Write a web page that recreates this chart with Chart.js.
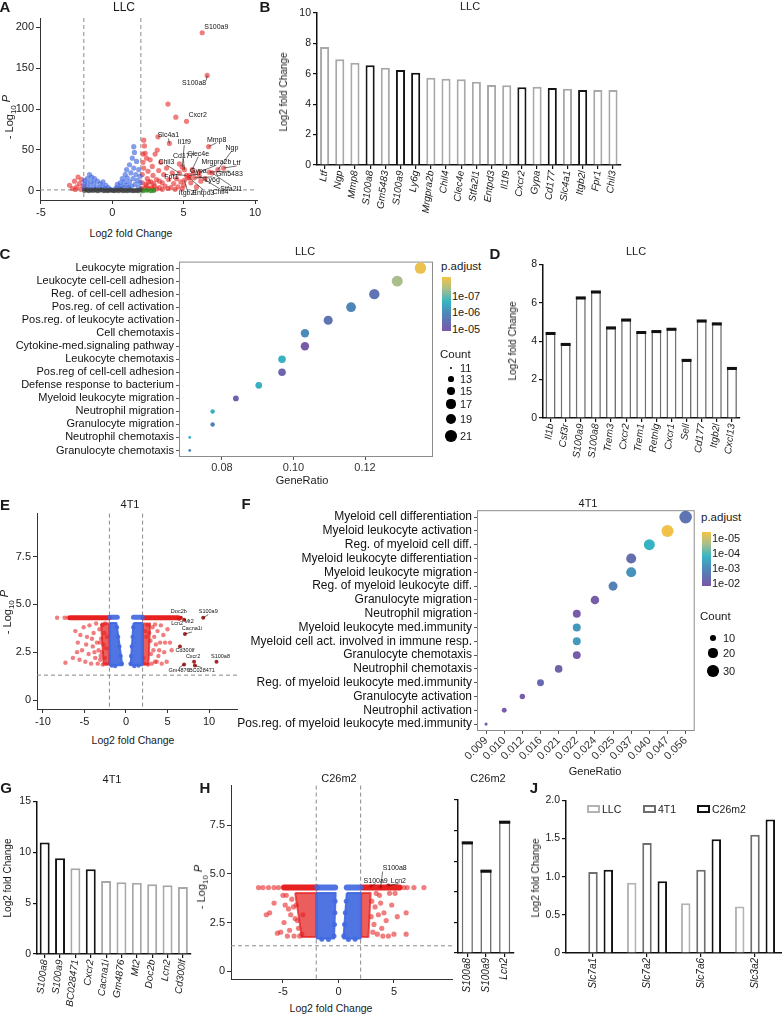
<!DOCTYPE html>
<html>
<head>
<meta charset="utf-8">
<title>Neutrophil gene signatures</title>
<script src="https://cdn.jsdelivr.net/npm/chart.js@4.4.1/dist/chart.umd.min.js"></script>
<style>
  html, body { margin: 0; overflow: hidden; }
  body { width: 782px; height: 1016px; position: relative; background: #fff;
         font-family: "Liberation Sans", Arial, sans-serif; color: #1a1a1a; }
  .lbl { position: absolute; white-space: nowrap; line-height: 1; }
</style>
</head>
<body>
<script>
// ---------------- data ----------------
const FC_CUT = 2;      // |log2 fold change| cut-off
const P_CUT = 1.3;     // -log10(0.05)

// A: LLC volcano
const aTicksX = [-5, 0, 5, 10];
const aTicksY = [0, 50, 100, 150, 200];
const aGrey = [[-1.95,0.5],[-1.8,1.5],[-1.65,0.3],[-1.5,1.1],[-1.35,0.6],[-1.2,1.6],[-1.05,0.2],[-0.9,0.9],
  [-0.75,1.4],[-0.6,0.4],[-0.45,1.0],[-0.3,0.3],[-0.15,1.2],[0,0.5],[0.15,0.2],[0.3,1.1],[0.45,0.4],[0.6,1.5],
  [0.75,0.3],[0.9,0.9],[1.05,0.2],[1.2,1.3],[1.35,0.6],[1.5,0.2],[1.65,1.0],[1.8,0.4],[1.95,1.2]];
const aBlue = [[-1.95,3],[-1.95,8],[-1.95,13],[-1.75,3],[-1.75,9],[-1.75,15],[-1.6,20],[-1.55,5],[-1.5,11],
  [-1.45,17],[-1.3,3],[-1.3,9],[-1.25,15],[-1.1,5],[-1.05,12],[-0.9,3],[-0.85,9],[-0.7,5],[-0.65,11],[-0.5,3],
  [-0.45,7],[-0.3,4],[-0.15,2],
  [0.15,2],[0.3,4],[0.35,8],[0.5,3],[0.55,10],[0.65,6],[0.7,15],[0.8,4],[0.85,11],[0.9,20],[1.0,7],[1.0,26],
  [1.05,16],[1.15,4],[1.2,11],[1.2,32],[1.3,22],[1.35,6],[1.4,40],[1.45,15],[1.5,28],[1.5,54],[1.55,47],[1.6,8],
  [1.65,20],[1.7,36],[1.75,13],[1.85,4],[1.85,26],[1.95,10],[1.95,18]];
const aGreen = [[2.15,0.4],[2.4,0.9],[2.7,0.3],[2.9,0.6]];
const aRed = [[-3.0,7],[-2.8,3],[-2.65,12],[-2.5,5],[-2.4,17],[-2.3,9],[-2.2,2],[-2.15,14],[-2.05,6],[-2.6,1.8],
  [2.05,3],[2.1,10],[2.1,20],[2.15,35],[2.2,62],[2.25,55],[2.3,46],[2.2,28],[2.4,6],[2.45,15],[2.5,24],[2.6,3],
  [2.65,38],[2.7,11],[2.8,30],[2.85,19],[2.95,6],[3.0,45],[3.1,14],[3.15,50],[3.2,66],[3.25,25],[3.3,4],[3.4,35],
  [3.5,10],[3.6,20],[3.7,6],[3.8,28],[3.9,106],[3.95,14],[4.1,4],[4.2,22],[4.3,9],[4.45,90],[4.5,15],[4.6,5],
  [4.7,33],[4.8,11],[5.0,7],[5.3,16],[5.5,10],[5.7,22],[5.9,5],[6.2,12],[6.5,15],
  [2.1,1.8],[2.3,3.5],[2.5,1.6],[2.75,4],[2.9,2],[3.1,2.5],[3.5,2],[3.9,3],[4.4,2],[4.9,3],[2.35,8],[2.55,11],
  [2.9,9],[3.3,12],[2.15,45],[2.4,40]];
const aLabGenes = ['S100a9','S100a8','Cxcr2','Slc4a1','Il1f9','Cd177','Chil3','Clec4e','Mrgpra2b','Gypa',
  'Fpr1','Ly6g','Itgb2l','Entpd3','Chil4','Stfa2l1','Gm5483','Ltf','Ngp','Mmp8'];
const aLabPts = [[6.3,193],[6.65,141],[5.2,85],[4.0,58],[4.9,29],[5.05,26],[4.7,22],[5.6,26],[6.1,23],[5.4,19],
  [5.2,19],[5.75,16],[5.05,13],[5.4,16],[6.1,18],[7.0,22],[6.8,23],[7.8,28],[7.4,26],[6.75,54]];

// B: LLC top genes
const bGenes = ['Ltf','Ngp','Mmp8','S100a8','Gm5483','S100a9','Ly6g','Mrgpra2b','Chil4','Clec4e','Stfa2l1',
  'Entpd3','Il1f9','Cxcr2','Gypa','Cd177','Slc4a1','Itgb2l','Fpr1','Chil3'];
const bVals = [7.76,6.95,6.73,6.56,6.4,6.25,6.07,5.74,5.68,5.64,5.48,5.26,5.24,5.11,5.15,5.07,5.02,4.93,4.93,4.93];
const bDark = ['S100a8','S100a9','Ly6g','Cxcr2','Cd177','Itgb2l'];

// C: LLC GO terms
const cTerms = ['Leukocyte migration','Leukocyte cell-cell adhesion','Reg. of cell-cell adhesion',
  'Pos.reg. of cell activation','Pos.reg. of leukocyte activation','Cell chemotaxis',
  'Cytokine-med.signaling pathway','Leukocyte chemotaxis','Pos.reg of cell-cell adhesion',
  'Defense response to bacterium','Myeloid leukocyte migration','Neutrophil migration',
  'Granulocyte migration','Neutrophil chemotaxis','Granulocyte chemotaxis'];
const cRatio = [0.1355,0.129,0.1226,0.1161,0.1097,0.1032,0.1032,0.0968,0.0968,0.0903,0.0839,0.0774,0.0774,0.071,0.071];
const cCount = [21,20,19,18,17,16,16,15,15,14,13,12,12,11,11];
const cPadj = [1e-8,4e-8,2.9e-6,1.2e-6,2.9e-6,1.0e-6,1.1e-5,2.5e-7,6e-6,2.5e-7,7.5e-6,2.7e-7,1.4e-6,2.4e-7,1.2e-6];
const cTicksX = [0.08, 0.10, 0.12];
const cLegCounts = [11,13,15,17,19,21];
const cLegP = [1e-7,1e-6,1e-5];

// D: LLC neutrophil markers
const dGenes = ['Il1b','Csf3r','S100a9','S100a8','Trem3','Cxcr2','Trem1','Retnlg','Cxcr1','Sell','Cd177','Itgb2l','Cxcl13'];
const dVals = [4.4,3.83,6.25,6.56,4.69,5.1,4.45,4.5,4.62,3.0,5.05,4.9,2.58];

// E: 4T1 volcano
const eTicksX = [-10,-5,0,5,10];
const eTicksY = [0,2.5,5,7.5];
const eBandL = [[-6.75,4.3],[-2.0,4.3]];
const eBandR = [[2.05,4.3],[6.3,4.3]];
const eCapL = [[-1.95,4.33],[-1.05,4.33]];
const eCapR = [[0.9,4.33],[1.95,4.33]];
const eBlueL = [[-1.95,4.02],[-1.15,4.02],[-0.45,1.82],[-1.95,1.82]];
const eBlueR = [[0.9,4.02],[1.95,4.02],[1.95,1.82],[0.55,1.82]];
const eBlueEdge = [[-1.1,3.8],[-0.95,3.3],[-0.8,2.8],[-0.65,2.3],[-0.5,1.9],[-1.3,1.78],[-1.7,1.8],
  [0.88,3.8],[0.8,3.3],[0.7,2.8],[0.62,2.3],[0.55,1.9],[1.0,1.78],[1.5,1.8]];
const eRedCoreL = [[-3.0,4.0],[-2.0,4.0],[-2.0,1.85],[-2.7,1.85]];
const eRedCoreR = [[2.05,4.0],[2.9,4.0],[2.7,1.85],[2.05,1.85]];
const eRed = [[-8.3,4.3],[-7.4,4.3],[-7.0,4.3],
  [-7.3,1.95],[-6.4,2.2],[-6.1,3.6],[-5.8,3.0],[-5.6,2.1],[-5.3,2.6],[-5.1,3.8],[-4.9,2.0],[-4.7,3.3],[-4.5,2.4],
  [-4.4,3.9],[-4.2,1.9],[-4.0,2.8],[-3.9,3.5],[-3.7,2.2],[-3.6,4.0],[-3.5,3.0],[-3.4,1.9],[-3.3,2.6],[-3.2,3.7],
  [-3.1,2.1],[-3.0,3.2],[-2.9,2.5],[-2.85,3.9],[-2.8,1.85],[-2.7,2.9],[-2.6,3.5],[-2.55,2.2],[-2.5,4.0],[-2.4,2.7],
  [-2.35,1.9],[-2.3,3.3],[-5.9,2.5],[-4.8,2.9],[-4.1,3.2],[-3.8,2.5],[-5.5,3.4],[-3.15,3.0],[-3.05,2.3],
  [2.1,2.2],[2.2,1.9],[2.3,3.6],[2.45,3.3],[2.6,3.9],[2.65,1.85],[2.8,3.5],[3.1,1.9],[3.2,3.8],[3.3,2.6],[3.4,3.3],
  [3.5,2.0],[3.6,2.9],[3.7,2.0],[3.8,3.6],[3.9,2.3],[4.1,3.0],[4.2,3.9],[4.3,1.9],[4.5,3.4],[4.6,2.5],[4.9,2.0],
  [5.0,3.7],[5.3,3.0],[5.5,2.6],[4.0,2.6],[4.7,3.0],[3.5,3.95],[3.0,2.4],[2.95,3.1]];
const eLabGenes = ['Doc2b','Lcn2','Mt2','S100a9','Cacna1i','Cd300lf','Cxcr2','S100a8','Gm4876','BC028471'];
const eLabPts = [[6.6,4.3],[6.4,4.25],[7.0,4.2],[9.3,4.3],[7.1,3.45],[6.5,2.8],[8.2,2.0],[10.9,2.0],[7.0,1.85],[8.3,1.8]];

// F: 4T1 GO terms
const fTerms = ['Myeloid cell differentiation','Myeloid leukocyte activation','Reg. of myeloid cell diff.',
  'Myeloid leukocyte differentiation','Myeloid leukocyte migration','Reg. of myeloid leukocyte diff.',
  'Granulocyte migration','Neutrophil migration','Myeloid leukocyte med.immunity',
  'Myeloid cell act. involved in immune resp.','Granulocyte chemotaxis','Neutrophil chemotaxis',
  'Reg. of myeloid leukocyte med.immunity','Granulocyte activation','Neutrophil activation',
  'Pos.reg. of myeloid leukocyte med.immunity'];
const fRatioLabels = ['0.009','0.010','0.012','0.016','0.021','0.022','0.024','0.025','0.037','0.040','0.047','0.056'];
const fRatio = ['0.056','0.047','0.040','0.037','0.037','0.025','0.024','0.022','0.022','0.022','0.022','0.021','0.016','0.012','0.010','0.009'];
const fCount = [36,33,28,24,24,20,18,16,16,16,16,15,13,9,8,5];
const fPadj = [3e-3,4.5e-6,1.7e-4,4.6e-3,6.8e-4,1.5e-3,1.3e-2,1.2e-2,5.7e-4,5e-4,1.2e-2,8e-3,5e-3,1.2e-2,1.2e-2,1.3e-2];
const fLegCounts = [10,20,30];
const fLegP = [1e-5,1e-4,1e-3,1e-2];

// G: 4T1 top genes
const gGenes = ['S100a8','S100a9','BC028471','Cxcr2','Cacna1i','Gm4876','Mt2','Doc2b','Lcn2','Cd300lf'];
const gVals = [10.95,9.4,8.43,8.33,7.16,7.06,7.0,6.86,6.76,6.57];
const gDark = ['S100a8','S100a9','Cxcr2'];

// H: C26m2 volcano + markers
const hTicksX = [-5,0,5];
const hTicksY = [0,2.5,5,7.5];
const hBandL = [[-4.9,4.3],[-1.95,4.3]];
const hBandR = [[2.15,4.3],[5.5,4.3]];
const hCapL = [[-1.9,4.3],[-0.3,4.3]];
const hCapR = [[0.75,4.3],[1.95,4.3]];
const hBlueL = [[-1.95,4.02],[-0.25,4.02],[-0.4,1.68],[-1.95,1.68]];
const hBlueR = [[0.75,4.02],[2.0,4.02],[2.0,1.68],[0.45,1.68]];
const hBlueEdge = [[-0.3,3.6],[-0.32,3.0],[-0.36,2.4],[-0.4,1.8],[-0.9,1.62],[-1.5,1.64],
  [0.7,3.6],[0.62,3.0],[0.55,2.4],[0.48,1.8],[0.9,1.62],[1.5,1.64]];
const hRedCoreL = [[-3.9,4.02],[-2.0,4.02],[-2.0,1.75],[-3.3,1.75]];
const hRedCoreR = [[2.05,4.02],[2.9,4.02],[2.7,1.75],[2.05,1.75]];
const hRed = [[-7.2,4.3],[-6.8,4.3],[-6.3,4.3],[-5.8,4.3],[-5.4,4.3],[5.9,4.3],[6.2,4.3],[6.8,4.3],[7.7,4.3],
  [-6.5,2.9],[-6.2,3.0],[-5.8,3.5],[-5.5,1.95],[-5.2,2.0],[-5.0,3.9],[-4.9,2.5],[-4.7,3.9],[-4.6,1.8],[-4.5,3.2],
  [-4.4,2.1],[-4.2,3.7],[-4.0,1.8],[-3.9,2.7],[-3.8,3.4],[-3.6,2.2],[-3.3,1.9],[-3.2,2.9],[-4.3,2.9],[-4.8,3.4],
  [-4.05,3.3],[-3.7,2.6],[-3.5,1.8],
  [3.0,3.6],[3.2,2.4],[3.3,3.3],[3.5,1.9],[3.6,2.9],[3.8,3.5],[3.9,2.2],[4.1,3.0],[4.3,2.6],[4.5,1.8],[4.6,4.0],
  [4.8,3.4],[5.0,1.9],[5.1,4.0],[5.3,2.8],[6.1,3.0],[6.1,1.9],[3.4,4.0],[4.0,1.8],[3.1,2.0],[3.7,3.9],[2.95,2.8]];
const hLabGenes = ['S100a8','S100a9','Lcn2'];
const hLabPts = [[3.8,4.3],[2.9,4.35],[4.5,4.4]];
const hbGenes = ['S100a8','S100a9','Lcn2'];
const hbVals = [7.2,5.35,8.55];

// J: amino acid transporters
const jGenes = ['Slc7a1','Slc7a2','Slc7a6','Slc3a2'];
const jLLC = [null,0.92,0.65,0.61];
const j4T1 = [1.06,1.44,1.09,1.55];
const jC26 = [1.09,0.94,1.49,1.75];

// ---------------- helpers ----------------
Chart.defaults.font.family = '"Liberation Sans", Arial, sans-serif';
Chart.defaults.color = '#1a1a1a';
Chart.defaults.animation = false;
Chart.defaults.responsive = false;
Chart.defaults.events = [];
Chart.defaults.plugins.legend.display = false;
Chart.defaults.plugins.tooltip.enabled = false;

const RED = 'rgba(232,40,40,0.6)';
const BLUE = 'rgba(65,105,225,0.65)';
const SOLID_BLUE = 'rgba(65,105,225,0.92)';
const CORE_RED = 'rgba(228,30,30,0.72)';
const GREY = '#a8a8a8';
const DARK = '#141414';

function makeChart(b, cfg) {
  const cv = document.createElement('canvas');
  const left = b.l - b.yW, top = b.t - b.padT;
  const w = b.r + b.padR - left, h = b.b + b.xH - top;
  cv.width = w; cv.height = h;
  cv.style.cssText = 'position:absolute;left:' + left + 'px;top:' + top + 'px;width:' + w + 'px;height:' + h + 'px';
  document.body.appendChild(cv);
  const o = cfg.options;
  o.layout = { padding: { top: b.padT, right: b.padR, left: 0, bottom: 0 } };
  o.scales.x.afterFit = s => { s.height = b.xH; };
  o.scales.y.afterFit = s => { s.width = b.yW; };
  return new Chart(cv, cfg);
}

function txt(s, x, y, o = {}) {
  const d = document.createElement('div');
  d.className = 'lbl';
  d.innerHTML = s;
  d.style.left = x + 'px';
  d.style.top = y + 'px';
  d.style.fontSize = (o.size || 11) + 'px';
  if (o.bold) d.style.fontWeight = 'bold';
  const ax = o.align === 'left' ? '0' : o.align === 'right' ? '-100%' : '-50%';
  d.style.transform = 'translate(' + ax + ',-50%)' + (o.rot ? ' rotate(' + o.rot + 'deg)' : '');
  document.body.appendChild(d);
}

const P = arr => arr.map(([x, y]) => ({ x, y }));
const dots = (arr, color, r) => ({ data: P(arr), pointRadius: r, pointBackgroundColor: color, pointBorderWidth: 0 });
const band = (arr, color, w) => ({ data: P(arr), showLine: true, borderColor: color, borderWidth: w,
  borderCapStyle: 'round', pointRadius: 0 });
const blob = (arr, color) => ({ data: P(arr.concat([arr[0]])), showLine: true, fill: 'shape', backgroundColor: color,
  borderColor: color, borderWidth: 2, borderJoinStyle: 'round', pointRadius: 0 });

const fmtInt = v => String(v);
const fmt1 = v => v === 0 ? '0' : v.toFixed(1);

function linAxis(min, max, ticks, fmt) {
  return {
    type: 'linear', min, max,
    afterBuildTicks: s => { s.ticks = ticks.map(v => ({ value: v })); },
    ticks: { callback: fmt, font: { size: 11 }, padding: 2, color: '#222' },
    grid: { drawOnChartArea: false, tickLength: 4, color: '#333' },
    border: { color: '#333', width: 1 }
  };
}

function cutLines(fc, p) {
  return { id: 'cut', beforeDatasetsDraw(chart) {
    const { ctx, chartArea: a, scales: { x, y } } = chart;
    ctx.save();
    ctx.strokeStyle = '#8a8a8a'; ctx.lineWidth = 1; ctx.setLineDash([4, 3]);
    [-fc, fc].forEach(v => {
      const px = x.getPixelForValue(v);
      ctx.beginPath(); ctx.moveTo(px, a.top); ctx.lineTo(px, a.bottom); ctx.stroke();
    });
    const py = y.getPixelForValue(p);
    ctx.beginPath(); ctx.moveTo(a.left, py); ctx.lineTo(a.right, py); ctx.stroke();
    ctx.restore();
  } };
}

// labels: text placed at a pixel offset from its gene's point
function geneLabels(genes, pts, offs, font) {
  return { id: 'geneLabels', afterDatasetsDraw(chart) {
    const { ctx, scales: { x, y } } = chart;
    ctx.save();
    ctx.font = font; ctx.fillStyle = '#111'; ctx.strokeStyle = '#111'; ctx.lineWidth = 0.6;
    ctx.textBaseline = 'middle';
    genes.forEach((g, i) => {
      const px = x.getPixelForValue(pts[i][0]), py = y.getPixelForValue(pts[i][1]);
      const [dx, dy, al] = offs[i];
      const tx = px + dx, ty = py + dy;
      if (Math.hypot(dx, dy) > 7) {
        ctx.beginPath(); ctx.moveTo(px, py); ctx.lineTo(tx, ty + (dy < 0 ? 3 : -3)); ctx.stroke();
      }
      ctx.textAlign = al || 'center';
      ctx.fillText(g, tx, ty);
    });
    ctx.restore();
  } };
}

const frame = { id: 'frame', beforeDatasetsDraw(chart) {
  const { ctx, chartArea: a } = chart;
  ctx.save(); ctx.strokeStyle = '#8c8c8c'; ctx.lineWidth = 1;
  ctx.strokeRect(a.left + 0.5, a.top + 0.5, a.width - 1, a.height - 1);
  ctx.restore();
} };

const darkTop = { id: 'darkTop', afterDatasetsDraw(chart) {
  const ctx = chart.ctx;
  ctx.save(); ctx.fillStyle = '#111';
  chart.getDatasetMeta(0).data.forEach(b => { ctx.fillRect(b.x - b.width / 2, b.y - 1.5, b.width, 3); });
  ctx.restore();
} };

// p.adjust colour ramp (yellow -> sage -> teal -> steel blue -> purple)
const PADJ_STOPS = [[0, [246,194,68]], [0.22, [168,191,139]], [0.45, [55,181,195]], [0.68, [78,134,184]], [1, [123,87,168]]];
function padjColor(p, lo, hi) {
  const t = Math.min(1, Math.max(0, (Math.log10(p) - lo) / (hi - lo)));
  for (let i = 1; i < PADJ_STOPS.length; i++) {
    const [t1, c1] = PADJ_STOPS[i], [t0, c0] = PADJ_STOPS[i - 1];
    if (t <= t1) {
      const f = (t - t0) / (t1 - t0);
      return 'rgb(' + c0.map((c, k) => Math.round(c + (c1[k] - c) * f)).join(',') + ')';
    }
  }
}
const gradCss = 'linear-gradient(to bottom,' + PADJ_STOPS.map(([t, c]) => 'rgb(' + c.join(',') + ') ' + (t * 100) + '%').join(',') + ')';
const expLabel = p => { const e = Math.round(Math.log10(p)); return '1e-' + String(-e).padStart(2, '0'); };

function padjLegend(o) {
  txt('p.adjust', o.x, o.titleY, { align: 'left', size: 11.5 });
  const bar = document.createElement('div');
  bar.style.cssText = 'position:absolute;left:' + (o.x + 1) + 'px;top:' + o.barTop + 'px;width:9px;height:' + o.barH + 'px;background:' + gradCss;
  document.body.appendChild(bar);
  o.ticks.forEach(p => {
    const t = (Math.log10(p) - o.lo) / (o.hi - o.lo);
    txt(expLabel(p), o.x + 11, o.barTop + t * o.barH, { align: 'left', size: 11 });
  });
  txt('Count', o.x - 1, o.countY, { align: 'left', size: 11.5 });
  o.counts.forEach((c, i) => {
    const r = o.size(c), y = o.dotY[i];
    const d = document.createElement('div');
    d.style.cssText = 'position:absolute;border-radius:50%;background:#000;left:' + (o.dotX - r) + 'px;top:' + (y - r) + 'px;width:' + (2 * r) + 'px;height:' + (2 * r) + 'px';
    document.body.appendChild(d);
    txt(String(c), o.labX, y, { align: 'left', size: 11 });
  });
}

function barY(max, step, fmt, labels = true) {
  return { min: 0, max,
    ticks: { stepSize: step, callback: fmt, display: labels, font: { size: 10.5 }, padding: 2, color: '#1a1a1a' },
    grid: { drawOnChartArea: false, tickLength: 4, color: '#111', lineWidth: 1.2 },
    border: { color: '#111', width: 1.5 } };
}
function barX(rot) {
  return { grid: { drawOnChartArea: false, offset: false, tickLength: 4, color: '#111', lineWidth: 1.2 },
    border: { color: '#111', width: 1.5 },
    ticks: { autoSkip: false, minRotation: rot, maxRotation: rot, font: { size: 10, style: 'italic' }, padding: 1, color: '#1a1a1a' } };
}

// ---------------- layout (page pixels of each plot area) ----------------
const boxA = { l: 40, t: 18, r: 257, b: 200, yW: 40, xH: 22, padT: 18, padR: 10 };
const boxB = { l: 317, t: 13, r: 622, b: 165, yW: 31, xH: 52, padT: 13, padR: 4 };
const boxC = { l: 179, t: 261, r: 433, b: 457, yW: 179, xH: 18, padT: 8, padR: 8 };
const boxD = { l: 543, t: 264, r: 741, b: 418, yW: 28, xH: 50, padT: 8, padR: 4 };
const boxE = { l: 37, t: 513, r: 237, b: 709, yW: 37, xH: 22, padT: 8, padR: 8 };
const boxF = { l: 477, t: 509, r: 697, b: 731, yW: 242, xH: 40, padT: 8, padR: 4 };
const boxG = { l: 37, t: 801, r: 192, b: 954, yW: 37, xH: 62, padT: 8, padR: 4 };
const boxH = { l: 231, t: 785, r: 452, b: 979, yW: 35, xH: 22, padT: 8, padR: 6 };
const boxHb = { l: 458, t: 800, r: 516, b: 953, yW: 6, xH: 60, padT: 6, padR: 2 };
const boxJ = { l: 566, t: 800, r: 782, b: 953, yW: 40, xH: 58, padT: 8, padR: 8 };

// label offsets (px) from each labelled point
const aLabOff = [[2,-6,'left'],[-1,8,'right'],[2,-6,'left'],[-1,-8],[2,-25],[-1,-14],[-13,-11],[6,-16],[17,-10],
  [9,-4],[-15,2],[18,2],[3,13],[14,15],[21,16],[19,16],[20,2],[13,-5],[14,-22],[8,-7]];
const eLabOff = [[-2,-6],[-2,5],[5,2],[5,-6],[7,-5],[5,4],[-1,-5],[4,-5],[-5,6],[7,5]];
const hLabOff = [[2,-19,'left'],[5,-6],[10,-5]];

// ---------------- A ----------------
makeChart(boxA, { type: 'scatter',
  data: { datasets: [
    dots(aGrey, 'rgba(60,60,60,0.75)', 2.5),
    dots(aBlue, BLUE, 2.6),
    dots(aGreen, 'rgba(34,150,34,0.8)', 2.5),
    dots(aRed.concat(aLabPts), RED, 2.6)
  ] },
  options: { scales: { x: linAxis(-5.07, 10.14, aTicksX, fmtInt), y: linAxis(-11, 211, aTicksY, fmtInt) } },
  plugins: [cutLines(FC_CUT, P_CUT), geneLabels(aLabGenes, aLabPts, aLabOff, '7px "Liberation Sans Narrow", "Liberation Sans", Arial')]
});

// ---------------- B ----------------
makeChart(boxB, { type: 'bar',
  data: { labels: bGenes, datasets: [{ data: bVals, backgroundColor: '#fff',
    borderColor: bGenes.map(g => bDark.includes(g) ? DARK : GREY), borderWidth: 2,
    barPercentage: 0.6, categoryPercentage: 1 }] },
  options: { scales: { x: barX(83), y: barY(10, 2) } }
});

// ---------------- C ----------------
const sizeC = c => Math.sqrt(2 + (c - 11) * 3.1);
const C_LO = -8.1, C_HI = -4.9;
makeChart(boxC, { type: 'scatter',
  data: { datasets: [{ data: cTerms.map((t, i) => ({ x: cRatio[i], y: t })),
    pointRadius: cCount.map(sizeC), pointBackgroundColor: cPadj.map(p => padjColor(p, C_LO, C_HI)), pointBorderWidth: 0 }] },
  options: { scales: {
    x: { type: 'linear', min: 0.068, max: 0.139,
      afterBuildTicks: s => { s.ticks = cTicksX.map(v => ({ value: v })); },
      ticks: { callback: v => v.toFixed(2), font: { size: 11 }, padding: 1, color: '#333' },
      grid: { drawOnChartArea: false, tickLength: 3, color: '#555' }, border: { display: false } },
    y: { type: 'category', labels: cTerms, offset: true,
      ticks: { autoSkip: false, font: { size: 11 }, padding: 2, color: '#111' },
      grid: { drawOnChartArea: false, tickLength: 3, color: '#555' }, border: { display: false } }
  } },
  plugins: [frame]
});
padjLegend({ x: 441, titleY: 267, barTop: 277, barH: 54, lo: C_LO, hi: C_HI, ticks: cLegP,
  countY: 355, counts: cLegCounts, size: sizeC, dotX: 451, dotY: [368,379,391,404,419,436], labX: 460 });

// ---------------- D ----------------
makeChart(boxD, { type: 'bar',
  data: { labels: dGenes, datasets: [{ data: dVals, backgroundColor: '#fff', borderColor: '#707070', borderWidth: 1.6,
    barPercentage: 0.66, categoryPercentage: 1 }] },
  options: { scales: { x: barX(83), y: barY(8, 2) } },
  plugins: [darkTop]
});

// ---------------- E ----------------
makeChart(boxE, { type: 'scatter',
  data: { datasets: [
    blob(eBlueL, SOLID_BLUE), blob(eBlueR, SOLID_BLUE),
    dots(eBlueEdge, SOLID_BLUE, 2.2),
    band(eCapL, SOLID_BLUE, 5), band(eCapR, SOLID_BLUE, 5),
    blob(eRedCoreL, CORE_RED), blob(eRedCoreR, CORE_RED),
    band(eBandL, 'rgba(230,20,20,0.95)', 5), band(eBandR, 'rgba(230,20,20,0.95)', 5),
    dots(eRed, RED, 2.2),
    dots(eLabPts, 'rgba(160,15,15,0.9)', 2)
  ] },
  options: { scales: { x: linAxis(-10.72, 13.37, eTicksX, fmtInt), y: linAxis(-0.47, 9.74, eTicksY, fmt1) } },
  plugins: [cutLines(FC_CUT, P_CUT), geneLabels(eLabGenes, eLabPts, eLabOff, '5.5px "Liberation Sans Narrow", "Liberation Sans", Arial')]
});

// ---------------- F ----------------
const sizeF = c => Math.sqrt(Math.max(1.5, 1.2 * c - 3.5));
const F_LO = -5.4, F_HI = -1.8;
makeChart(boxF, { type: 'scatter',
  data: { datasets: [{ data: fTerms.map((t, i) => ({ x: fRatio[i], y: t })),
    pointRadius: fCount.map(sizeF), pointBackgroundColor: fPadj.map(p => padjColor(p, F_LO, F_HI)), pointBorderWidth: 0 }] },
  options: { scales: {
    x: { type: 'category', labels: fRatioLabels, offset: true,
      ticks: { autoSkip: false, minRotation: 45, maxRotation: 45, font: { size: 11 }, padding: 0, color: '#333' },
      grid: { drawOnChartArea: false, tickLength: 3, color: '#555' }, border: { display: false } },
    y: { type: 'category', labels: fTerms, offset: true,
      ticks: { autoSkip: false, font: { size: 12 }, padding: 2, color: '#111' },
      grid: { drawOnChartArea: false, tickLength: 3, color: '#555' }, border: { display: false } }
  } },
  plugins: [frame]
});
padjLegend({ x: 701, titleY: 518, barTop: 532, barH: 54, lo: F_LO, hi: F_HI, ticks: fLegP,
  countY: 617, counts: fLegCounts, size: sizeF, dotX: 713, dotY: [638,653,671], labX: 723 });

// ---------------- G ----------------
makeChart(boxG, { type: 'bar',
  data: { labels: gGenes, datasets: [{ data: gVals, backgroundColor: '#fff',
    borderColor: gGenes.map(g => gDark.includes(g) ? DARK : GREY), borderWidth: 2,
    barPercentage: 0.65, categoryPercentage: 1 }] },
  options: { scales: { x: barX(83), y: barY(15, 5) } }
});

// ---------------- H ----------------
makeChart(boxH, { type: 'scatter',
  data: { datasets: [
    blob(hBlueL, SOLID_BLUE), blob(hBlueR, SOLID_BLUE),
    dots(hBlueEdge, SOLID_BLUE, 2.5),
    band(hCapL, SOLID_BLUE, 6), band(hCapR, SOLID_BLUE, 6),
    blob(hRedCoreL, CORE_RED), blob(hRedCoreR, CORE_RED),
    band(hBandL, 'rgba(230,20,20,0.95)', 6), band(hBandR, 'rgba(230,20,20,0.95)', 6),
    dots(hRed, RED, 2.6),
    dots(hLabPts, 'rgba(160,15,15,0.9)', 2)
  ] },
  options: { scales: { x: linAxis(-9.68, 10.23, hTicksX, fmtInt), y: linAxis(-0.41, 9.55, hTicksY, fmt1) } },
  plugins: [cutLines(FC_CUT, P_CUT), geneLabels(hLabGenes, hLabPts, hLabOff, '7px "Liberation Sans Narrow", "Liberation Sans", Arial')]
});
makeChart(boxHb, { type: 'bar',
  data: { labels: hbGenes, datasets: [{ data: hbVals, backgroundColor: '#fff', borderColor: '#707070', borderWidth: 1.6,
    barPercentage: 0.6, categoryPercentage: 1 }] },
  options: { scales: { x: barX(90), y: barY(10, 2, undefined, false) } },
  plugins: [darkTop]
});

// ---------------- J ----------------
const jColors = ['#b4b4b4', '#6e6e6e', '#111'];
makeChart(boxJ, { type: 'bar',
  data: { labels: jGenes, datasets: [
    { label: 'LLC', data: jLLC }, { label: '4T1', data: j4T1 }, { label: 'C26m2', data: jC26 }
  ].map((d, i) => Object.assign(d, { backgroundColor: '#fff', borderColor: jColors[i], borderWidth: 2,
    barPercentage: 0.62, categoryPercentage: 0.85 })) },
  options: { scales: { x: barX(90), y: barY(2, 0.5, fmt1) } }
});
['LLC', '4T1', 'C26m2'].forEach((s, i) => {
  const x = [587, 643, 697][i];
  const b = document.createElement('div');
  b.style.cssText = 'position:absolute;left:' + x + 'px;top:805px;width:9px;height:4px;background:#fff;border:2px solid ' + jColors[i];
  document.body.appendChild(b);
  txt(s, x + 15, 809, { align: 'left', size: 10.5 });
});

// ---------------- text ----------------
[['A', 5, 6], ['B', 265, 6], ['C', 5, 253], ['D', 495, 253], ['E', 5, 504], ['F', 246, 503],
 ['G', 6, 787], ['H', 205, 787], ['J', 534, 787]].forEach(([s, x, y]) => txt(s, x, y, { size: 15, bold: true }));

txt('LLC', 124, 7, { size: 12 });
txt('LLC', 470, 6);
txt('LLC', 305, 251);
txt('LLC', 636, 251);
txt('4T1', 130, 504);
txt('4T1', 588, 503);
txt('4T1', 112, 779);
txt('C26m2', 339, 778);
txt('C26m2', 488, 778);

const volY = '- Log<sub style="font-size:8px">10</sub> <i style="position:relative;top:-3px">P</i>';
txt(volY, 11, 117, { rot: -90 });
txt(volY, 9, 612, { rot: -90 });
txt(volY, 203, 887, { rot: -90 });
txt('Log2 fold Change', 131, 233, { size: 10.5 });
txt('Log2 fold Change', 133, 740, { size: 10.5 });
txt('Log2 fold Change', 331, 1008, { size: 10.5 });
txt('GeneRatio', 302, 480);
txt('GeneRatio', 595, 771);
txt('Log2 fold Change', 284, 92, { size: 10, rot: -90 });
txt('Log2 fold Change', 513, 341, { size: 10, rot: -90 });
txt('Log2 fold Change', 8, 878, { size: 10, rot: -90 });
txt('Log2 fold Change', 536, 878, { size: 10, rot: -90 });
</script>
</body>
</html>
